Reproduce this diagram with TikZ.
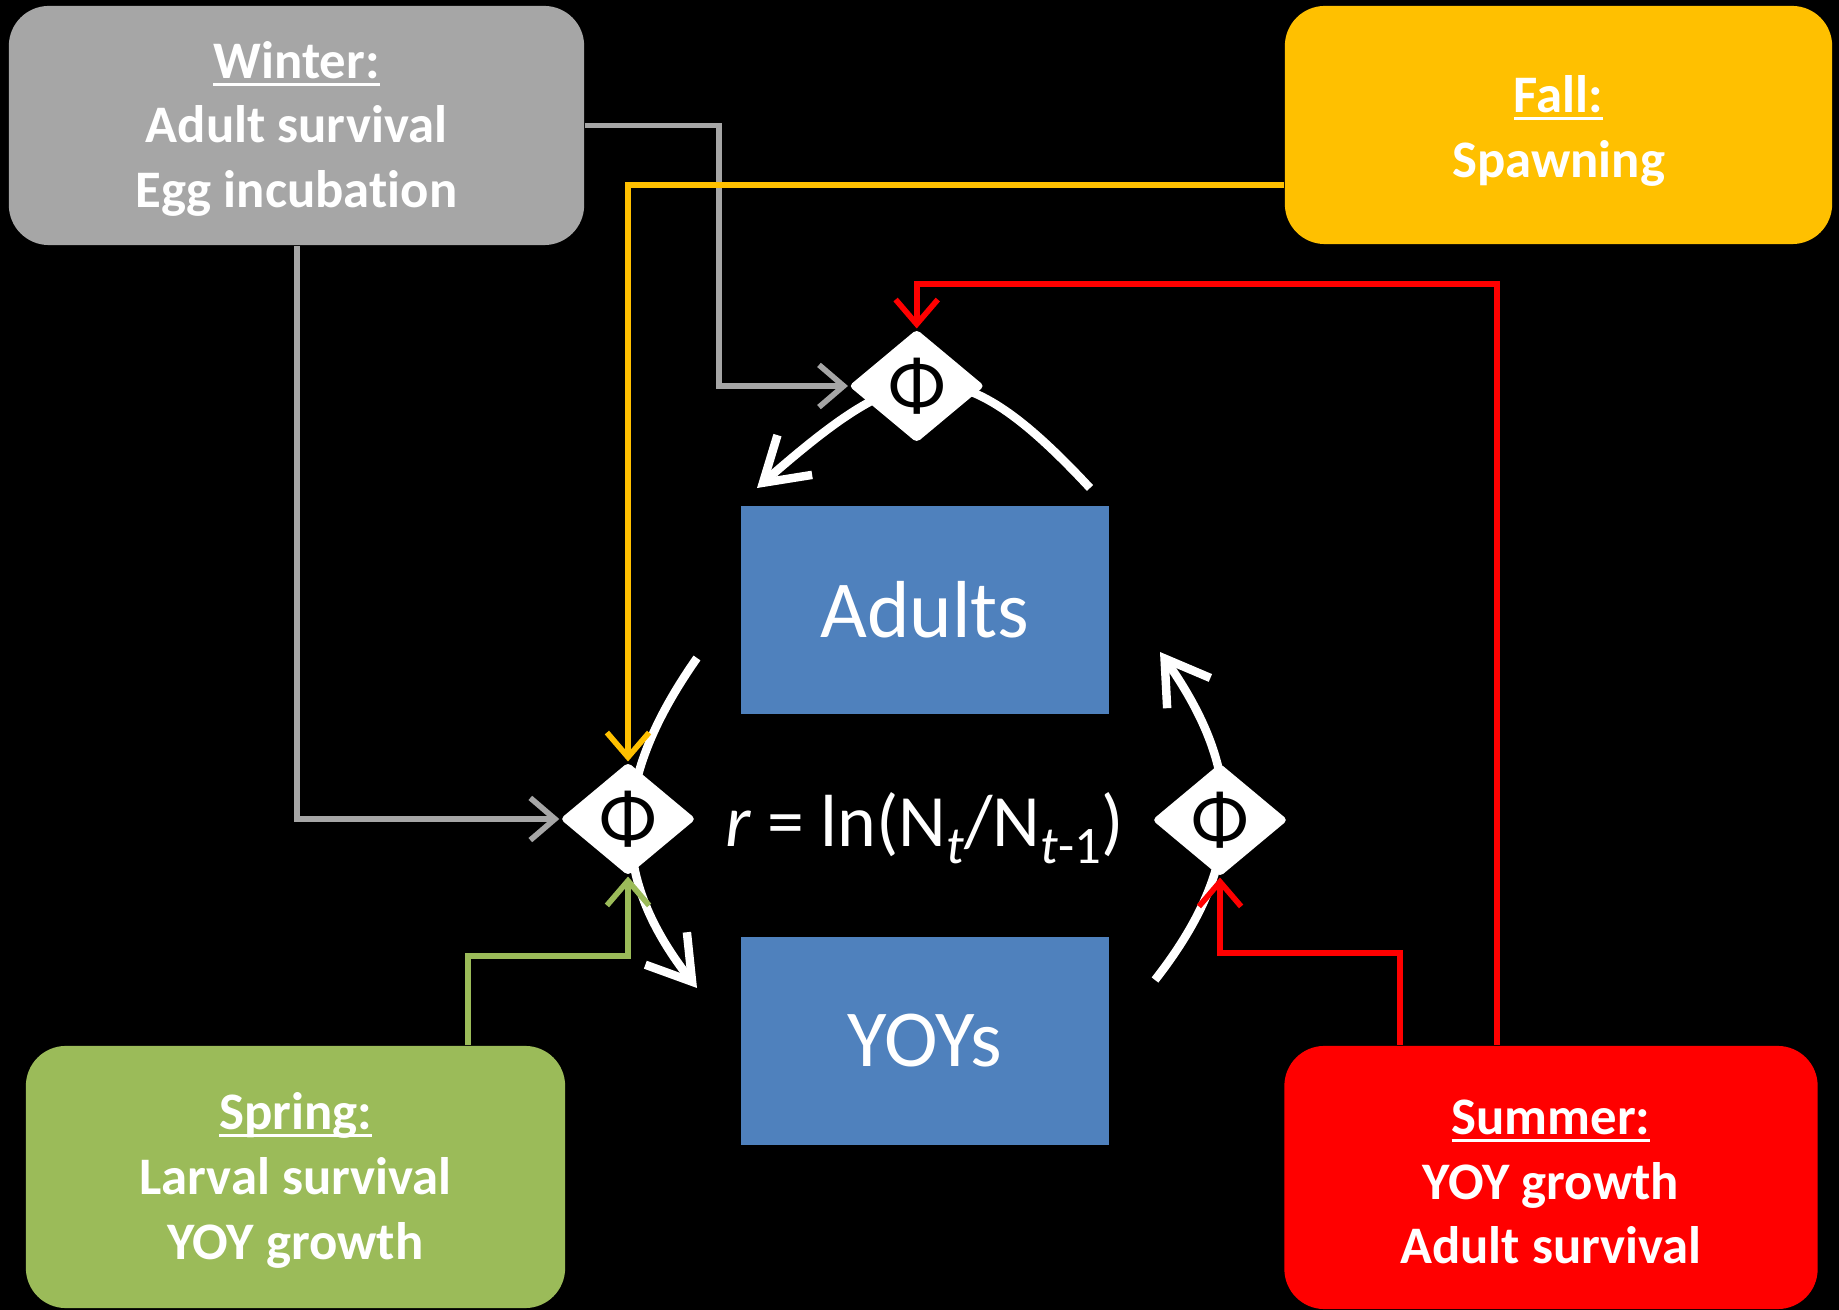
\documentclass[tikz,border=0pt]{standalone}
\usepackage{fontspec}
\setmainfont{Carlito}[Ligatures=NoCommon]
\usetikzlibrary{shapes.geometric,arrows.meta,calc}
\definecolor{wgray}{HTML}{A6A6A6}
\definecolor{fyellow}{HTML}{FFC000}
\definecolor{sgreen}{HTML}{9BBB59}
\definecolor{sred}{HTML}{FF0000}
\definecolor{boxblue}{HTML}{4F81BD}
\newcommand\myul[1]{\setbox0=\hbox{#1}\rlap{\rule[-0.145em]{\wd0}{0.06em}}\box0}
\newcommand\mysub[1]{\raisebox{-0.22em}{\fontsize{15}{15}\selectfont #1}}
\newcommand\topstrut[1]{\rule{0pt}{#1}}
\pgfdeclarelayer{back}
\pgfdeclarelayer{links}
\pgfsetlayers{back,links,main}
\begin{document}
\begin{tikzpicture}[x=0.01cm,y=-0.01cm,
  season/.style={rounded corners=0.4cm, text=white, font=\fontsize{15}{18.4}\selectfont\bfseries, align=center, inner sep=0pt},
  stage/.style={fill=boxblue, text=white, font=\fontsize{23}{26}\selectfont, inner sep=0pt, minimum width=3.68cm, minimum height=2.08cm},
  phi/.style={diamond, fill=white, inner sep=0pt, minimum width=1.36cm, minimum height=1.13cm, rounded corners=1.2pt, font=\fontsize{21.5}{21.5}\selectfont, text=black},
  conn/.style={line width=1.6pt, -{Straight Barb[length=7pt,width=12pt]}},
  flow/.style={white, line width=2.4pt, -{Straight Barb[length=12pt,width=15pt]}}]

\begin{pgfonlayer}{back}
  \fill[black] (0,0) rectangle (1839,1310);
\end{pgfonlayer}

% season boxes
\node[season, fill=wgray, minimum width=5.75cm, minimum height=2.39cm] (winter) at (296.5,125.5)
  {\topstrut{12.5pt}\myul{Winter:}\\Adult survival\\Egg incubat\kern0pt ion};
\node[season, fill=fyellow, minimum width=5.47cm, minimum height=2.38cm] (fall) at (1558.5,125)
  {\topstrut{14pt}\myul{Fall:}\\Spawning};
\node[season, fill=sgreen, minimum width=5.39cm, minimum height=2.62cm] (spring) at (295.5,1177)
  {\topstrut{12.5pt}\myul{Spring:}\\Larval survival\\YOY growth};
\node[season, fill=sred, minimum width=5.33cm, minimum height=2.63cm] (summer) at (1551,1177.5)
  {\topstrut{12.5pt}\myul{Summer:}\\YOY growth\\Adult survival};

% stage boxes
\node[stage] (adults) at (925,610) {Adults};
\node[stage] (yoys) at (925,1041) {YOYs};

% growth-rate label
\node[text=white, font=\fontsize{21}{24}\selectfont, anchor=base, inner sep=0pt] (eq) at (924.5,847)
  {{\itshape r} = ln(N\mysub{\itshape t}/N\mysub{{\itshape t}-1})};

% transition diamonds
\node[phi] (phiT) at (916.7,386) {Φ};
\node[phi] (phiL) at (628,819) {Φ};
\node[phi] (phiR) at (1220,820) {Φ};

% free ends of the life-cycle arcs
\coordinate (topS) at (1090,488);
\coordinate (topE) at (757,488);
\coordinate (leftS) at (697,658);
\coordinate (leftE) at (697,988);
\coordinate (rightS) at (1155,980);
\coordinate (rightE) at (1160,652);

\begin{pgfonlayer}{links}
  % life-cycle arcs
  \draw[flow] (topS) .. controls +(-135,-145) and +(149,-130) .. (topE);
  \draw[flow] (leftS) .. controls +(-84,120) and +(-90.5,-115.8) .. (leftE);
  \draw[flow] (rightS) .. controls +(90.5,-115.8) and +(84.3,120.4) .. (rightE);

  % season influences
  \draw[conn, wgray] (winter.east) -- (719,125.5) |- (phiT.west);
  \draw[conn, wgray] (winter.south -| 297,0) |- (phiL.west);
  \draw[conn, fyellow] (fall.west |- 0,185) -| (phiL.north);
  \draw[conn, sred] (summer.north -| 1497,0) -- (1497,284) -| (phiT.north);
  \draw[conn, sred] (summer.north -| 1400,0) -- (1400,953) -| (phiR.south);
  \draw[conn, sgreen] (spring.north -| 468,0) -- (468,956) -| (phiL.south);
\end{pgfonlayer}
\end{tikzpicture}
\end{document}
